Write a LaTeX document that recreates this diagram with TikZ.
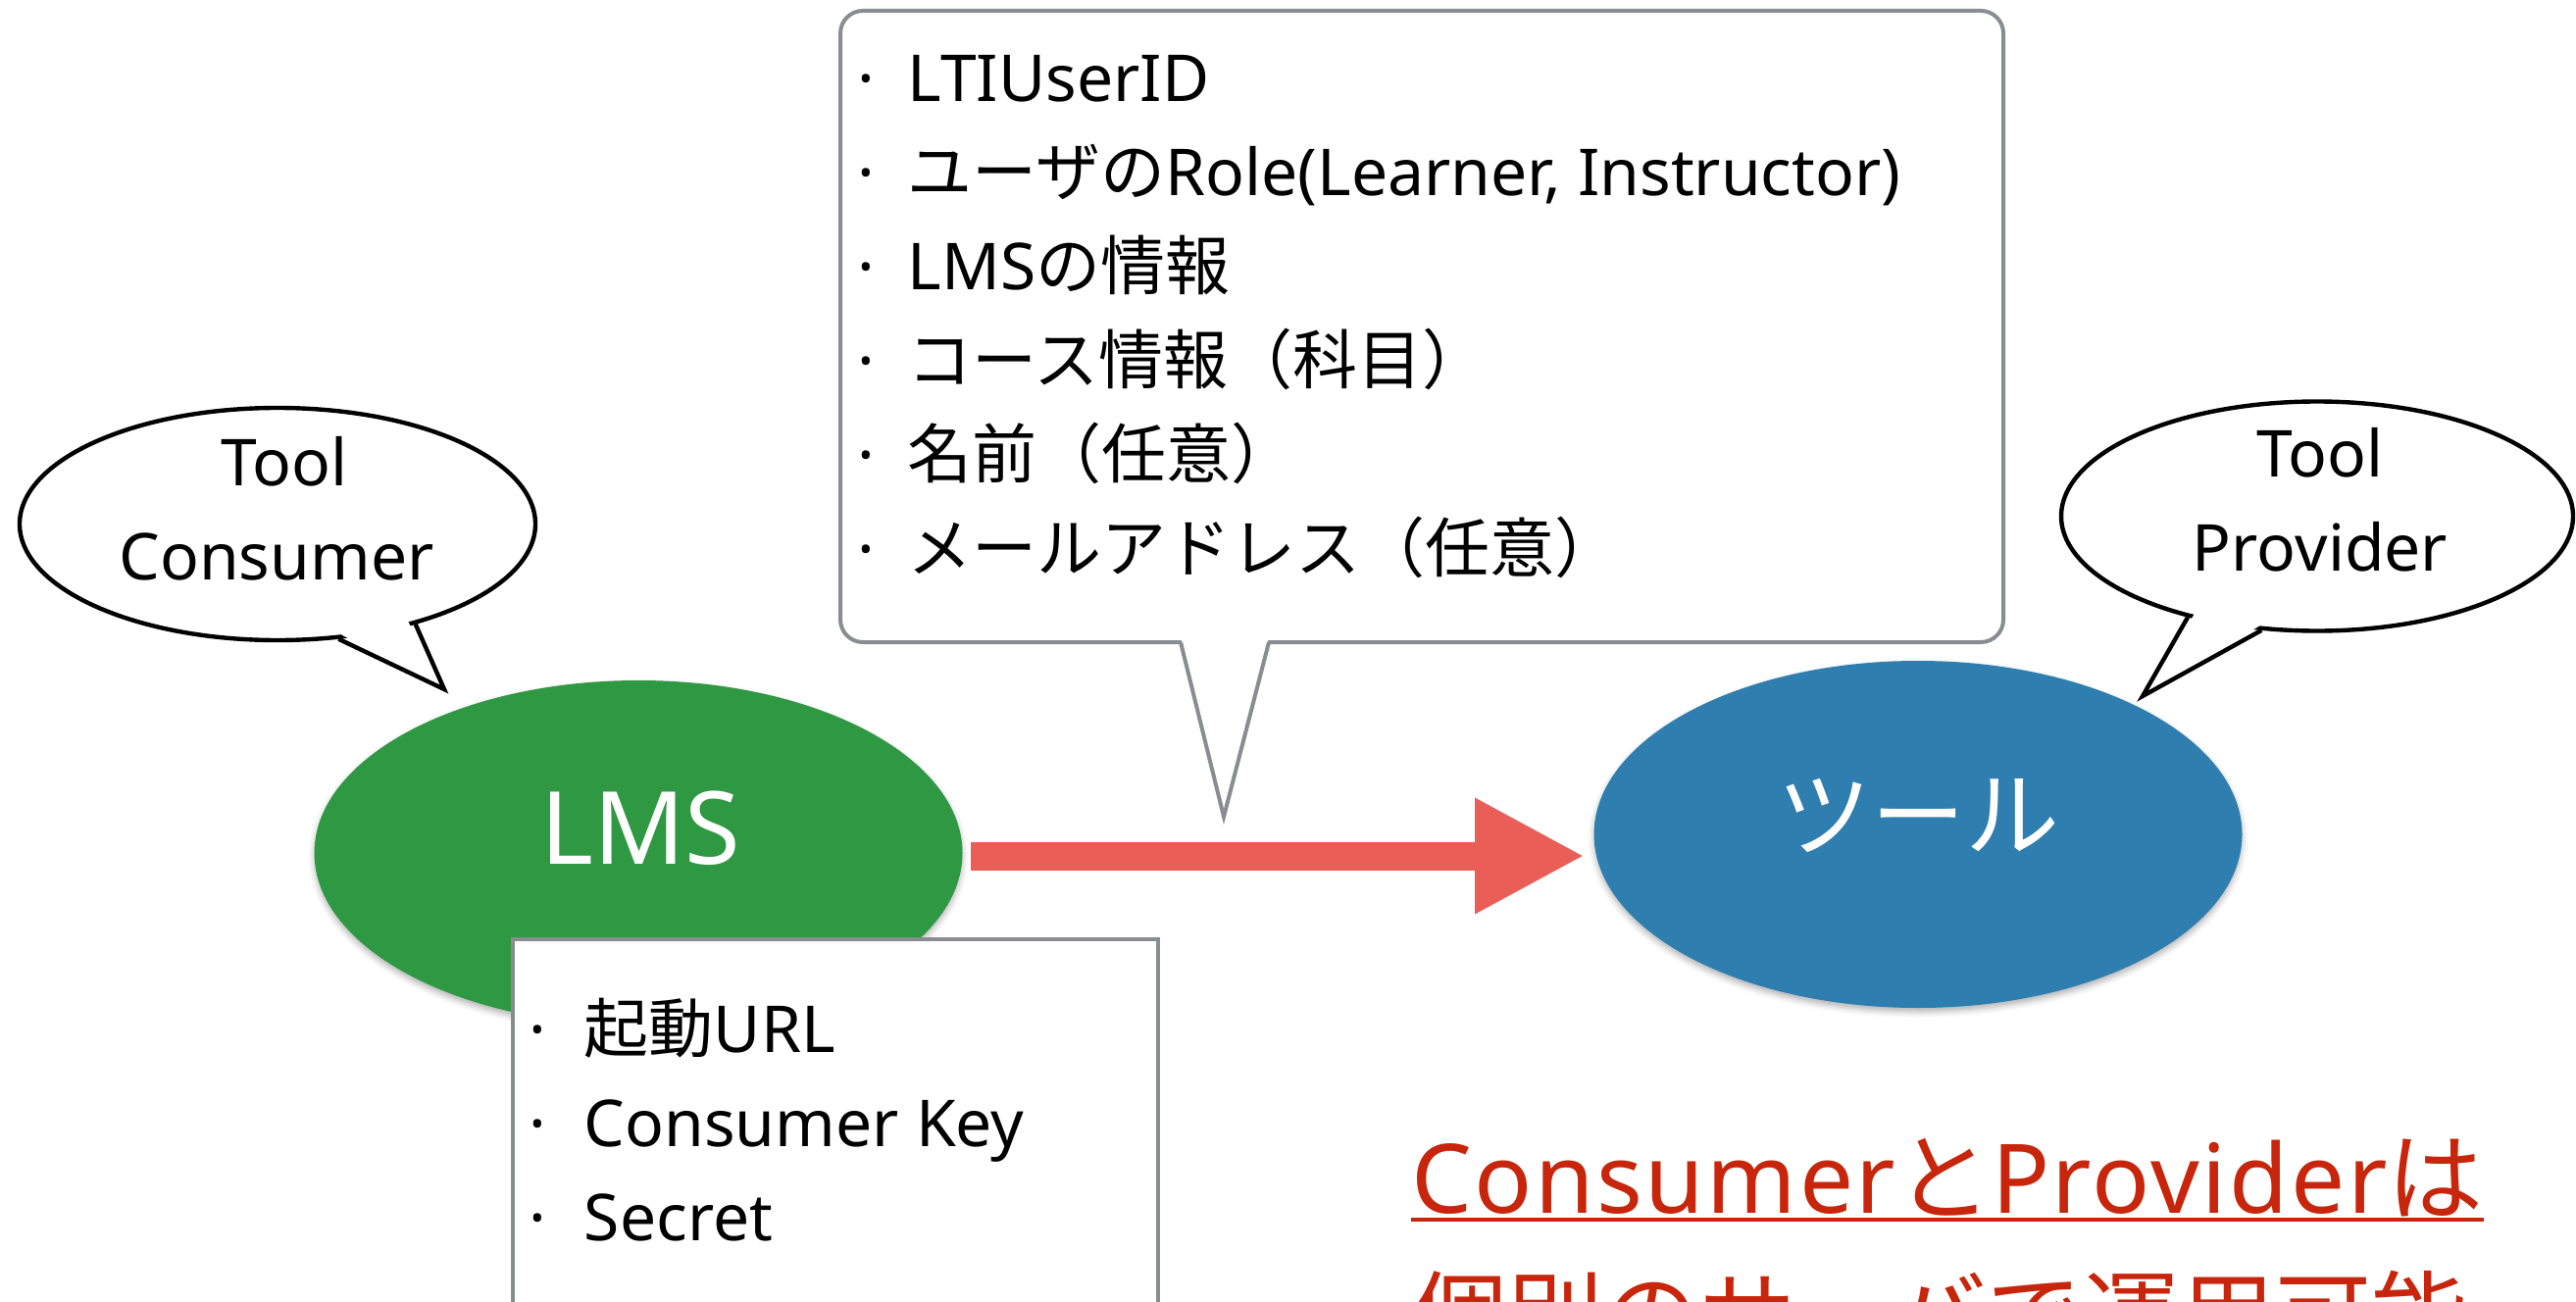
\documentclass[tikz,border=0pt]{standalone}
\usepackage{fontspec}
\setmainfont{Noto Sans}
\newfontfamily\jp{Noto Sans CJK JP}
\newfontfamily\notelatin[LetterSpace=2.5]{Noto Sans}
\usetikzlibrary{shapes.geometric,arrows.meta,shadows.blur,calc}

\definecolor{lmsgreen}{RGB}{47,152,66}
\definecolor{toolblue}{RGB}{46,126,176}
\definecolor{flowred}{RGB}{234,94,88}
\definecolor{framegray}{RGB}{137,140,145}
\definecolor{notered}{RGB}{200,38,12}

\newcommand\listsize{\fontsize{33}{48}\selectfont}

\begin{document}
\begin{tikzpicture}[x=0.5pt,y=-0.5pt,
  disc/.style={ellipse, inner sep=0pt, minimum width=330.5pt, minimum height=176pt,
    blur shadow={shadow xshift=0pt, shadow yshift=-2pt, shadow blur radius=3pt, shadow opacity=30}},
  disclabel/.style={anchor=base, inner sep=0pt, text=white},
  bubble/.style={ellipse, draw=black, line width=2.2pt, fill=white, inner sep=0pt},
  tailline/.style={draw=black, line width=2.2pt, line join=miter},
  frame/.style={draw=framegray, line width=2pt, fill=white},
  item/.style={anchor=base west, inner sep=0pt, font=\listsize},
  dot/.style={anchor=base, inner sep=0pt, font=\listsize},
  bubbletext/.style={anchor=base, inner sep=0pt, font=\listsize},
  flow/.style={draw=flowred, line width=14.5pt, -{Triangle[length=56pt,width=55pt]}},
  note/.style={anchor=base west, inner sep=0pt, text=notered, font=\fontsize{49}{60}\selectfont},
]
\useasboundingbox (0,0) rectangle (2627,1327);
\clip (0,0) rectangle (2627,1327);

% the two systems
\node[disc, fill=lmsgreen] (lms) at (651,870) {};
\node[disclabel, font=\fontsize{51.5}{60}\selectfont] (lmsLabel) at (653,881.5) {LMS};
\node[disc, fill=toolblue, minimum height=177pt] (tool) at (1956,851) {};
\node[disclabel, font=\jp\fontsize{48}{60}\selectfont] (toolLabel) at (1956,866) {ツール};

% launch request
\draw[flow] ($(lms.east)+(8,3)$) -- ($(lms.east -| tool.west)+(-9,3)$);

% parameters sent with the launch
\draw[frame, rounded corners=11.5pt] (857,11) rectangle (2043,655);
\coordinate (paramTip) at (1248,833);
\fill[white] (1204,650) -- (paramTip) -- (1294,650) -- cycle;
\draw[draw=framegray, line width=2pt, line join=miter] (1204,655) -- (paramTip) -- (1294,655);

\foreach \txt [count=\i] in {
    LTIUserID,
    {{\jp ユーザの}Role(Learner, Instructor)},
    {LMS{\jp の情報}},
    {{\jp コース情報（科目）}},
    {{\jp 名前（任意）}},
    {{\jp メールアドレス（任意）}}}{
  \node[dot] (pdot\i) at (883,{103.5+96*(\i-1)}) {·};
  \node[item] (param\i) at (925.5,{103.5+96*(\i-1)}) {\txt};
}

% settings registered in the LMS
\draw[frame] (523,958) rectangle (1181,1345);
\foreach \txt [count=\i] in {
    {{\jp 起動}URL},
    Consumer Key,
    Secret}{
  \node[dot] (kdot\i) at (548,{1073+96*(\i-1)}) {·};
  \node[item] (key\i) at (595.5,{1073+96*(\i-1)}) {\txt};
}

% role bubbles
\node[bubble, minimum width=263pt, minimum height=118.5pt] (tc) at (283,534.5) {};
\coordinate (tcTip) at (453,703);
\fill[white] ($(tc.center)!0.93!(tc.-62.9)$) -- (tcTip) -- ($(tc.center)!0.93!(tc.-36.3)$) -- cycle;
\draw[tailline] (tc.-62.9) -- (tcTip) -- (tc.-36.3);
\node[bubbletext] (tcLine1) at (290,495) {Tool};
\node[bubbletext] (tcLine2) at (282,591) {Consumer};

\node[bubble, minimum width=261pt, minimum height=117pt] (tp) at (2363,526.5) {};
\coordinate (tpTip) at (2185,710);
\fill[white] ($(tp.center)!0.93!(tp.-142.2)$) -- (tpTip) -- ($(tp.center)!0.93!(tp.-116.7)$) -- cycle;
\draw[tailline] (tp.-142.2) -- (tpTip) -- (tp.-116.7);
\node[bubbletext] (tpLine1) at (2366,486.5) {Tool};
\node[bubbletext] (tpLine2) at (2366,582.5) {Provider};

% remark
\node[note] (remark1) at (1439,1237) {{\notelatin Consumer}{\jp と}{\notelatin Provider}{\jp は}};
\draw[notered, line width=2pt] ([yshift=-3.5pt]remark1.base west) -- ([yshift=-3.5pt]remark1.base east);
\node[note, font=\jp\fontsize{49}{60}\selectfont] (remark2) at (1439,1378) {個別のサーバで運用可能};
\end{tikzpicture}
\end{document}
